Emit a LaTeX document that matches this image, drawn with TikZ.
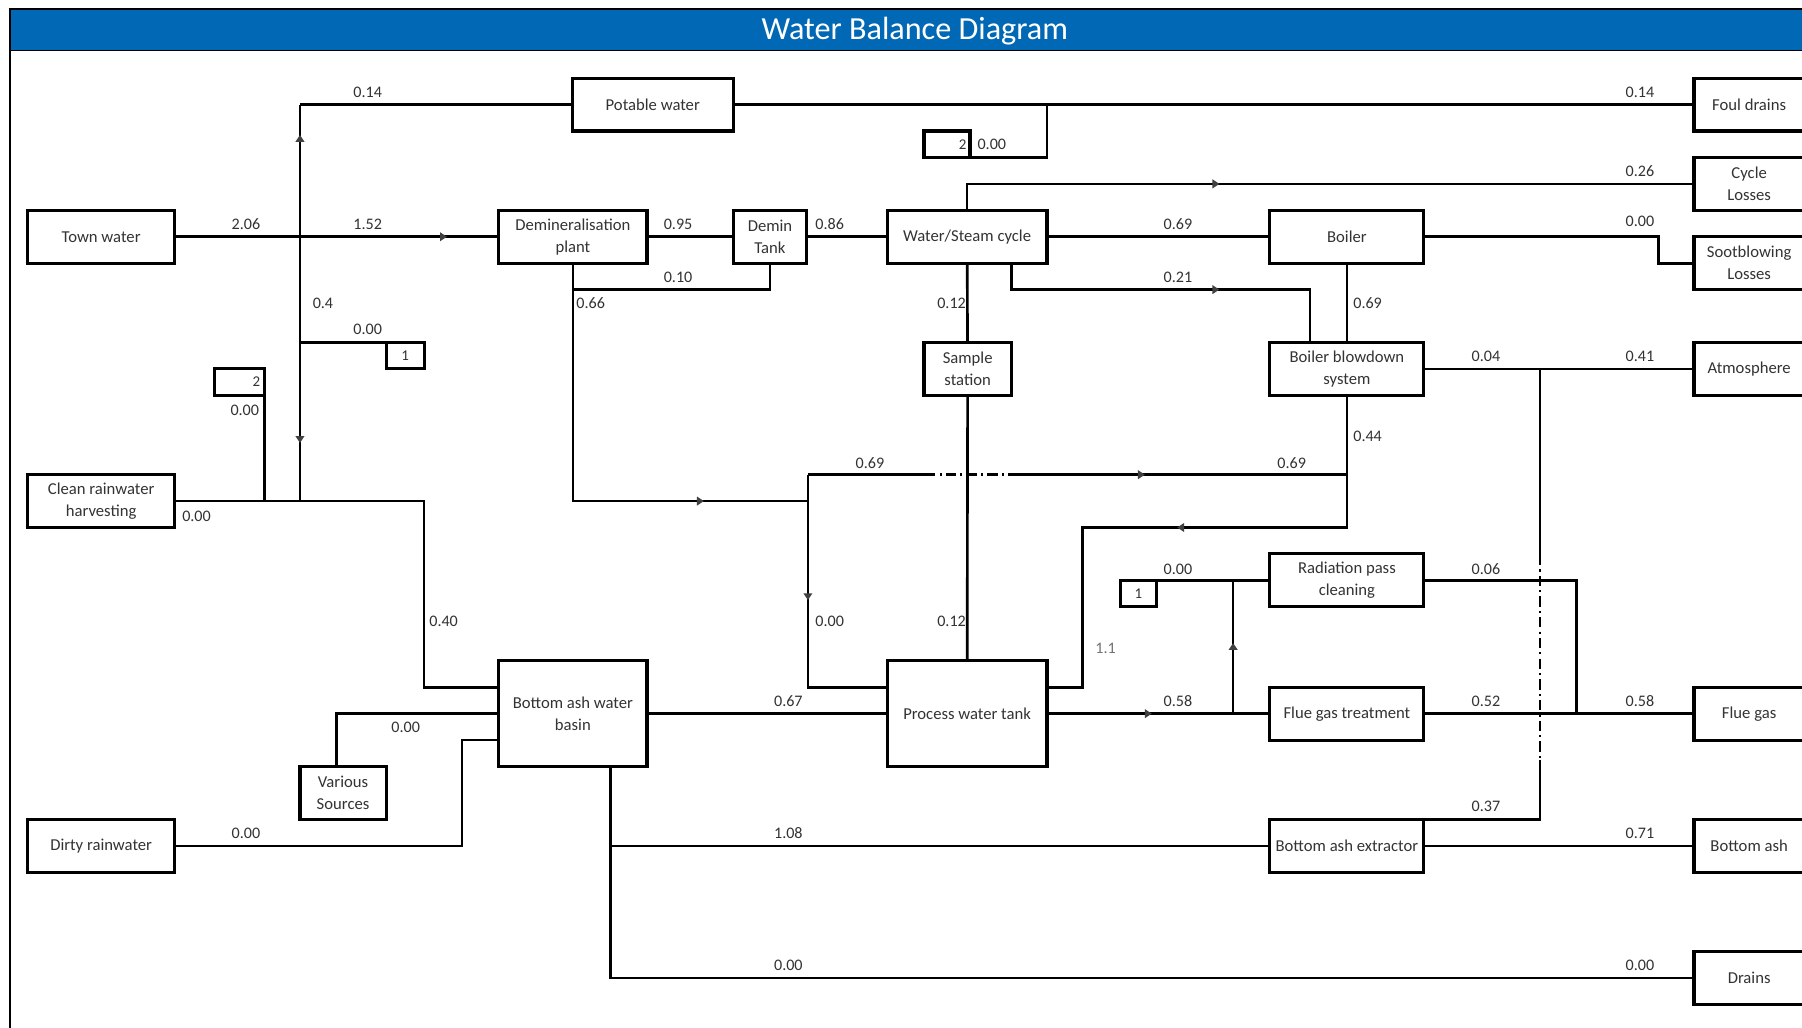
\documentclass[tikz,border=0pt]{standalone}
\usepackage{fontspec}
\setmainfont{Carlito}
\usetikzlibrary{arrows.meta,decorations.markings,calc}
\definecolor{titleblue}{RGB}{0,104,180}

\begin{document}
\begin{tikzpicture}[x=1pt,y=-1pt,
  blk/.style={draw,line width=2.7pt,fill=white,align=center,inner sep=0pt,outer sep=0pt,
    minimum height=46,text=black!80,font=\fontsize{14.5}{19}\selectfont},
  tag/.style={blk,minimum height=23,font=\fontsize{13}{15}\selectfont},
  lbl/.style={inner sep=0pt,text=black!80,font=\fontsize{14}{16}\selectfont},
  flow/.style={line width=2.3pt},
  dashdot/.style={line width=1.7pt,dash pattern=on 9pt off 3.5pt on 2pt off 3.5pt},
  midarr/.style={postaction={decorate},decoration={markings,
    mark=at position #1 with {\arrow{Triangle[length=6pt,width=7.5pt,color=black!75,fill=black!75]}}}}]
\useasboundingbox (0,0) rectangle (1568,894);
\fill[white] (0,0) rectangle (1568,894);
% title bar and frame
\fill[titleblue] (9,8) rectangle (1580,44);
\draw[line width=1.5pt] (1580,8) -- (9,8) -- (9,900);
\draw[line width=1.5pt] (9,44) -- (1580,44);
\node[text=white,font=\fontsize{28}{30}\selectfont] (title) at (796,27) {Water Balance Diagram};

% sources and plant
\node[blk,minimum width=128] (town) at (88,206) {Town water};
\node[blk,minimum width=128] (clean) at (88,436) {Clean rainwater\\harvesting};
\node[blk,minimum width=128] (dirty) at (88,736) {Dirty rainwater};
\node[blk,minimum width=75] (various) at (298.5,690) {Various\\Sources};
\node[blk,minimum width=140] (potable) at (568,91) {Potable water};
\node[blk,minimum width=129] (demin) at (498.5,206) {Demineralisation\\plant};
\node[blk,minimum width=64] (dtank) at (670,206) {Demin\\Tank};
\node[blk,minimum width=139] (wsc) at (841.5,206) {Water/Steam cycle};
\node[blk,minimum width=134] (boiler) at (1172,206) {Boiler};
\node[blk,minimum width=76] (sample) at (842,321) {Sample\\station};
\node[blk,minimum width=134] (bbd) at (1172,321) {Boiler blowdown\\system};
\node[blk,minimum width=129,minimum height=92] (basin) at (498.5,621) {Bottom ash water\\basin};
\node[blk,minimum width=139,minimum height=92] (pwt) at (841.5,621) {Process water tank};
\node[blk,minimum width=134] (rpc) at (1172,505) {Radiation pass\\cleaning};
\node[blk,minimum width=134] (fgt) at (1172,621) {Flue gas treatment};
\node[blk,minimum width=134] (bae) at (1172,736) {Bottom ash extractor};
% sinks
\node[blk,minimum width=96] (foul) at (1522,91) {Foul drains};
\node[blk,minimum width=96] (cycle) at (1522,160) {Cycle\\Losses};
\node[blk,minimum width=96] (soot) at (1522,229) {Sootblowing\\Losses};
\node[blk,minimum width=96] (atmos) at (1522,321) {Atmosphere};
\node[blk,minimum width=96] (fluegas) at (1522,621) {Flue gas};
\node[blk,minimum width=96] (bash) at (1522,736) {Bottom ash};
\node[blk,minimum width=96] (drains) at (1522,851) {Drains};
% small tags
\node[tag,minimum width=40,text width=34,align=right] (tagA) at (824,125.5) {2};
\node[tag,minimum width=43,text width=36,align=right] (tagB) at (208.5,332.5) {2};
\node[tag,minimum width=33] (tagC) at (352.5,309.5) {1};
\node[tag,minimum width=31] (tagD) at (990.5,516.5) {1};

% junctions
\coordinate (c1) at (261,91);
\coordinate (j1) at (261,206);
\coordinate (j2) at (261,298);
\coordinate (cr2) at (261,436);
\coordinate (c3) at (369,436);
\coordinate (c5) at (498.5,252);
\coordinate (c6) at (703,436);
\coordinate (c7) at (703,413);
\coordinate (c7a) at (805,413);
\coordinate (c7b) at (879,413);
\coordinate (c8) at (1172,413);
\coordinate (c11) at (1140,252);
\coordinate (c15) at (1443,206);
\coordinate (c16) at (911,91);
\coordinate (c17) at (1340,321);
\coordinate (c17a) at (1340,483);
\coordinate (c17b) at (1340,661);
\coordinate (c18) at (942,459);
\coordinate (c19) at (1073,621);
\coordinate (c20) at (1372,621);
\coordinate (c24) at (402,736);
\coordinate (c25) at (531,736);

% connectors
\draw[flow,midarr=0.84] (town) -- (demin);
\draw[flow] (potable) -- (c1);
\draw[flow,midarr=0.77] (j1) -- (c1);
\draw[flow,midarr=0.78] (j1) -- (cr2);
\draw[flow] (j2) -- (tagC.north east);
\draw[flow] (clean) -- (c3) |- ([yshift=23pt]basin.west);
\draw[flow] (tagB.south east) -- (tagB.south east |- clean.east);
\draw[flow] (demin) -- (dtank);
\draw[flow] (dtank) -- (wsc);
\draw[flow] (dtank.south) |- (c5);
\draw[flow,midarr=0.78] (demin.south) |- (c6);
\draw[flow,midarr=0.43] (c7) |- ([yshift=23pt]pwt.west);
\draw[flow] (c7) -- (c7a);
\draw[dashdot,line width=2.2pt] (c7a) -- (c7b);
\draw[flow,midarr=0.40] (c7b) -- (c8);
\draw[flow] (wsc) -- (boiler);
\draw[flow,midarr=0.37] (wsc.north) |- (cycle);
\draw[flow,midarr=0.62] ([xshift=38.5pt]wsc.south) |- (c11) -- ([xshift=-32pt]bbd.north);
\draw[flow] (wsc) -- (sample);
\draw[flow] (sample) -- (pwt);
\draw[flow] (boiler) -- (bbd);
\draw[flow] (boiler) -- (c15) |- (soot);
\draw[flow] (potable) -- (foul);
\draw[flow] (c16) |- (tagA.south east);
\draw[flow] (bbd) -- (atmos);
\draw[flow] (c17) -- (c17a);
\draw[dashdot] (c17a) -- (c17b);
\draw[flow] (c17b) |- (bae.north east);
\draw[flow,midarr=0.51] (bbd.south) |- (c18) |- ([yshift=23pt]pwt.east);
\draw[flow,midarr=0.47] (pwt) -- (fgt);
\draw[flow,midarr=0.53] (c19) -- (c19 |- rpc.west);
\draw[flow] (tagD.north east) -- (rpc);
\draw[flow] (rpc) -| (c20);
\draw[flow] (fgt) -- (fluegas);
\draw[flow] (basin) -- (pwt);
\draw[flow] ([xshift=-5.5pt]various.north) |- (basin.west);
\draw[flow] (dirty) -- (c24) |- ([yshift=-23pt]basin.west);
\draw[flow] ([xshift=32.5pt]basin.south) |- (drains);
\draw[flow] (c25) -- (bae);
\draw[flow] (bae) -- (bash);

% flow values
\node[lbl] (v1) at (320,80) {0.14};
\node[lbl] (v2) at (214,195) {2.06};
\node[lbl] (v3) at (320,195) {1.52};
\node[lbl] (v4) at (281,264) {0.4};
\node[lbl] (v5) at (320,287) {0.00};
\node[lbl] (v6) at (213,357) {0.00};
\node[lbl] (v7) at (171,449) {0.00};
\node[lbl] (v8) at (386,541) {0.40};
\node[lbl] (v9) at (590,195) {0.95};
\node[lbl] (v10) at (722,195) {0.86};
\node[lbl] (v11) at (590,241) {0.10};
\node[lbl] (v12) at (514,264) {0.66};
\node[lbl] (v13) at (757,403) {0.69};
\node[lbl] (v14) at (1124,403) {0.69};
\node[lbl] (v15) at (722,541) {0.00};
\node[lbl] (v16) at (828,264) {0.12};
\node[lbl] (v17) at (828,541) {0.12};
\node[lbl] (v18) at (1025,195) {0.69};
\node[lbl] (v19) at (1427,149) {0.26};
\node[lbl] (v20) at (1025,241) {0.21};
\node[lbl] (v21) at (1190,264) {0.69};
\node[lbl] (v22) at (1427,193) {0.00};
\node[lbl] (v23) at (1427,80) {0.14};
\node[lbl] (v24) at (863,126) {0.00};
\node[lbl] (v25) at (1293,310) {0.04};
\node[lbl] (v26) at (1427,310) {0.41};
\node[lbl] (v27) at (1190,380) {0.44};
\node[lbl,text=black!55] (v28) at (962,564) {1.1};
\node[lbl] (v29) at (1025,610) {0.58};
\node[lbl] (v30) at (1025,495) {0.00};
\node[lbl] (v31) at (1293,495) {0.06};
\node[lbl] (v32) at (1293,610) {0.52};
\node[lbl] (v33) at (1427,610) {0.58};
\node[lbl] (v34) at (686,610) {0.67};
\node[lbl] (v35) at (353,633) {0.00};
\node[lbl] (v36) at (214,725) {0.00};
\node[lbl] (v37) at (686,725) {1.08};
\node[lbl] (v38) at (686,840) {0.00};
\node[lbl] (v39) at (1427,840) {0.00};
\node[lbl] (v40) at (1293,702) {0.37};
\node[lbl] (v41) at (1427,725) {0.71};
\end{tikzpicture}
\end{document}
